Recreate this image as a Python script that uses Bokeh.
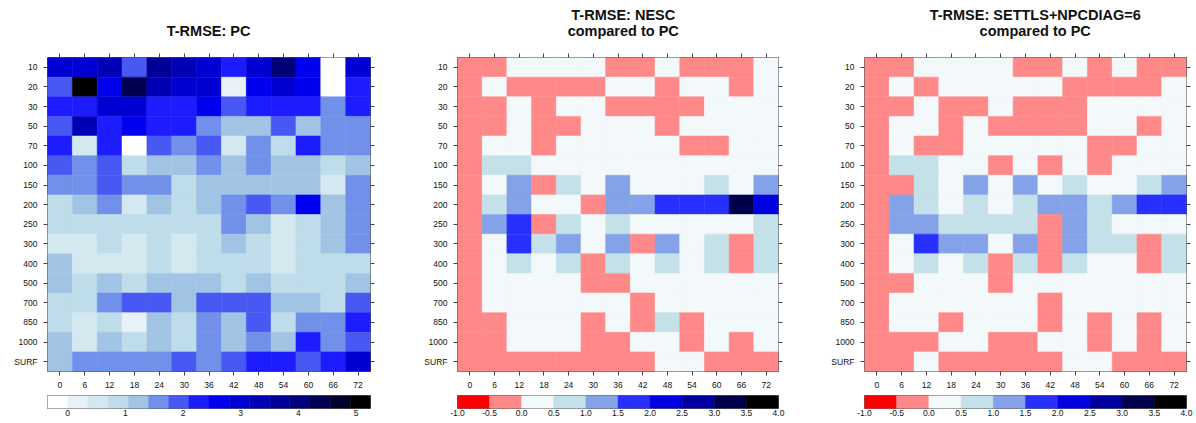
import numpy as np
from bokeh.plotting import figure
from bokeh.models import (Range1d, LinearAxis, FixedTicker, LinearColorMapper,
                          ColumnDataSource, PrintfTickFormatter, CustomLabelingPolicy)
from bokeh.transform import transform
from bokeh.layouts import row, column
from bokeh.core.properties import value
from bokeh.embed import file_html
from bokeh.resources import INLINE

nan = float("nan")
hours = [0, 6, 12, 18, 24, 30, 36, 42, 48, 54, 60, 66, 72]
levels = ["10", "20", "30", "50", "70", "100", "150", "200", "250", "300",
          "400", "500", "700", "850", "1000", "SURF"]

# T-RMSE of PC (rows = levels, columns = forecast hours)
pc_rmse = [
    [3.0, 3.0, 3.3, 1.9, 3.7, 3.3, 3.0, 2.3, 3.0, 4.0, 2.6, nan, 3.0],
    [1.9, 5.1, 2.6, 4.4, 3.3, 3.0, 3.0, 0.2, 2.6, 3.0, 2.6, nan, 2.3],
    [2.3, 2.3, 3.0, 3.0, 2.3, 2.3, 2.6, 1.9, 2.3, 2.3, 2.3, 1.6, 2.3],
    [1.9, 3.3, 2.3, 2.6, 2.3, 2.3, 1.6, 1.2, 1.2, 1.9, 1.2, 1.6, 1.6],
    [2.3, 0.5, 2.3, nan, 1.9, 1.6, 1.9, 0.5, 1.6, 0.9, 2.3, 1.6, 1.6],
    [1.9, 1.6, 1.9, 0.9, 1.2, 1.2, 1.6, 1.2, 1.6, 1.2, 1.2, 0.9, 1.2],
    [1.6, 1.6, 1.9, 1.6, 1.6, 0.9, 1.2, 1.2, 1.2, 1.2, 1.2, 0.5, 1.6],
    [0.9, 1.2, 1.6, 0.5, 1.2, 0.9, 1.2, 1.6, 1.9, 1.6, 2.6, 1.2, 1.6],
    [0.9, 0.9, 0.9, 0.9, 0.9, 0.9, 0.9, 1.6, 1.2, 0.5, 0.9, 1.2, 1.6],
    [0.5, 0.5, 0.9, 0.5, 0.9, 0.5, 0.9, 1.2, 0.9, 0.5, 0.9, 1.2, 1.6],
    [1.2, 0.5, 0.5, 0.5, 0.9, 0.5, 0.9, 0.9, 0.9, 0.5, 0.9, 0.9, 0.9],
    [1.2, 0.9, 1.2, 0.9, 1.2, 1.2, 1.2, 0.9, 1.2, 0.9, 0.9, 0.9, 1.2],
    [0.9, 0.9, 1.6, 1.9, 1.9, 1.2, 1.9, 1.9, 1.9, 1.2, 1.2, 0.9, 1.9],
    [0.9, 0.5, 0.9, 0.2, 1.2, 0.9, 1.6, 1.2, 1.9, 0.9, 1.6, 1.6, 2.3],
    [1.2, 0.5, 1.2, 0.9, 1.2, 0.9, 1.6, 1.2, 1.6, 1.2, 2.3, 1.6, 1.9],
    [1.2, 1.6, 1.6, 1.6, 1.6, 1.9, 1.6, 1.9, 2.3, 2.3, 1.9, 2.3, 3.0],
]

# NESC compared to PC
nesc_diff = [
    [-0.2, -0.2, 0.2, 0.2, 0.2, 0.2, -0.2, -0.2, 0.2, -0.2, -0.2, -0.2, 0.2],
    [-0.2, 0.2, -0.2, -0.2, -0.2, -0.2, 0.2, 0.2, -0.2, 0.2, 0.2, -0.2, 0.2],
    [-0.2, -0.2, 0.2, -0.2, 0.2, 0.2, -0.2, -0.2, -0.2, -0.2, 0.2, 0.2, 0.2],
    [-0.2, -0.2, 0.2, -0.2, -0.2, 0.2, 0.2, 0.2, -0.2, 0.2, 0.2, 0.2, 0.2],
    [-0.2, 0.2, 0.2, -0.2, 0.2, 0.2, 0.2, 0.2, 0.2, -0.2, -0.2, 0.2, 0.2],
    [-0.2, 0.7, 0.7, 0.2, 0.2, 0.2, 0.2, 0.2, 0.2, 0.2, 0.2, 0.2, 0.2],
    [-0.2, 0.2, 1.2, -0.2, 0.7, 0.2, 1.2, 0.2, 0.2, 0.2, 0.7, 0.2, 1.2],
    [-0.2, 0.7, 1.2, 0.2, 0.2, -0.2, 1.2, 1.2, 1.7, 1.7, 1.7, 3.2, 2.2],
    [-0.2, 1.2, 1.7, -0.2, 0.7, 0.2, 0.7, 0.2, 0.2, 0.2, 0.2, 0.2, 0.7],
    [-0.2, 0.2, 1.7, 0.7, 1.2, 0.2, 1.2, -0.2, 1.2, 0.2, 0.7, -0.2, 0.7],
    [-0.2, 0.2, 0.7, 0.2, 0.7, -0.2, 0.7, 0.2, 0.7, 0.2, 0.7, -0.2, 0.7],
    [-0.2, 0.2, 0.2, 0.2, 0.2, -0.2, -0.2, 0.2, 0.2, 0.2, 0.2, 0.2, 0.2],
    [-0.2, 0.2, 0.2, 0.2, 0.2, 0.2, 0.2, -0.2, 0.2, 0.2, 0.2, 0.2, 0.2],
    [-0.2, -0.2, 0.2, 0.2, 0.2, -0.2, 0.2, -0.2, 0.7, -0.2, 0.2, 0.2, 0.2],
    [-0.2, -0.2, 0.2, 0.2, 0.2, -0.2, -0.2, 0.2, 0.2, -0.2, 0.2, -0.2, 0.2],
    [-0.2, -0.2, -0.2, -0.2, -0.2, -0.2, -0.2, -0.2, 0.2, 0.2, -0.2, -0.2, -0.2],
]

# SETTLS+NPCDIAG=6 compared to PC
settls_diff = [
    [-0.2, -0.2, 0.2, 0.2, 0.2, 0.2, -0.2, -0.2, 0.2, -0.2, 0.2, -0.2, -0.2],
    [-0.2, 0.2, -0.2, 0.2, 0.2, 0.2, 0.2, 0.2, -0.2, -0.2, -0.2, -0.2, 0.2],
    [-0.2, -0.2, 0.2, -0.2, -0.2, 0.2, -0.2, -0.2, -0.2, 0.2, 0.2, 0.2, 0.2],
    [-0.2, 0.2, 0.2, -0.2, 0.2, -0.2, -0.2, -0.2, -0.2, 0.2, 0.2, -0.2, 0.2],
    [-0.2, 0.2, -0.2, -0.2, 0.2, 0.2, 0.2, 0.2, 0.2, -0.2, -0.2, 0.2, 0.2],
    [-0.2, 0.7, 0.7, 0.2, 0.2, -0.2, 0.2, -0.2, 0.2, -0.2, 0.2, 0.2, 0.2],
    [-0.2, -0.2, 0.7, 0.2, 1.2, 0.2, 1.2, 0.2, 0.7, 0.2, 0.2, 0.7, 1.2],
    [-0.2, 1.2, 0.7, 0.2, 0.7, 0.2, 0.7, 1.2, 1.2, 0.7, 1.2, 1.7, 1.7],
    [-0.2, 1.2, 1.2, 0.7, 0.7, 0.7, 0.7, -0.2, 1.2, 0.7, 0.2, 0.2, 0.2],
    [-0.2, 0.2, 1.7, 1.2, 1.2, 0.2, 1.2, -0.2, 1.2, 0.7, 0.7, -0.2, 0.7],
    [-0.2, 0.2, 0.7, 0.2, 0.7, -0.2, 0.7, -0.2, 0.7, 0.2, 0.2, -0.2, 0.7],
    [-0.2, -0.2, 0.2, 0.2, 0.2, -0.2, 0.2, 0.2, 0.2, 0.2, 0.2, 0.2, 0.2],
    [-0.2, 0.2, 0.2, 0.2, 0.2, 0.2, 0.2, -0.2, 0.2, 0.2, 0.2, 0.2, 0.2],
    [-0.2, 0.2, 0.2, -0.2, 0.2, 0.2, 0.2, -0.2, 0.2, -0.2, 0.2, -0.2, 0.2],
    [-0.2, -0.2, -0.2, 0.2, 0.2, -0.2, -0.2, 0.2, 0.2, -0.2, 0.2, -0.2, 0.2],
    [-0.2, -0.2, 0.2, -0.2, -0.2, -0.2, -0.2, -0.2, 0.2, 0.2, -0.2, -0.2, -0.2],
]

pc_bounds = [-0.35, 0.0, 0.35, 0.7, 1.05, 1.4, 1.75, 2.1, 2.45, 2.8, 3.15,
             3.5, 3.85, 4.2, 4.55, 4.9, 5.25]
pc_ticks = [0, 1, 2, 3, 4, 5]
pc_palette = ["#ffffff", "#e8f1f7", "#d4e8f0", "#bedcea", "#a2c4e4", "#7090ea",
              "#4858f2", "#1c1cff", "#0000f0", "#0000d2", "#0000b4", "#000096",
              "#000078", "#000052", "#00002a", "#000000"]
diff_bounds = [-1.0, -0.5, 0.0, 0.5, 1.0, 1.5, 2.0, 2.5, 3.0, 3.5, 4.0]
diff_palette = ["#ff0000", "#ff8888", "#f3f8fb", "#c4e0e8", "#84a2e8",
                "#2830ff", "#0000e0", "#0000a0", "#00004a", "#000000"]

titles = ["T-RMSE: PC",
          "T-RMSE: NESC\ncompared to PC",
          "T-RMSE: SETTLS+NPCDIAG=6\ncompared to PC"]

FONT = "Liberation Sans"
LABEL_SIZE = "8.5px"

NO_LABELS_JS = """
if (typeof indices.clear === 'function') {
  indices.clear();
} else {
  for (const i of Array.from(indices)) { indices.unset(i); }
}
return indices;
"""


def title_panel(text, width, cx):
    lines = text.split("\n")
    t = figure(width=width, height=40, x_range=Range1d(0, width), y_range=Range1d(40, 0),
               min_border=0, output_backend="svg", toolbar_location=None,
               x_axis_location=None, y_axis_location=None)
    t.grid.visible = False
    t.outline_line_color = None
    n = len(lines)
    ys = [30.5 - 16 * (n - 1 - i) for i in range(n)]
    t.text(x=[cx] * n, y=ys, text=lines, text_align="center", text_baseline="middle",
           text_font=value(FONT), text_font_style="bold", text_font_size="14.5px",
           text_color="#111111")
    return t


def style_axis(ax, standoff):
    ax.axis_line_color = None
    ax.major_tick_line_color = "#444444"
    ax.major_tick_out = 4
    ax.major_tick_in = 0
    ax.minor_tick_line_color = None
    ax.major_label_text_font = FONT
    ax.major_label_text_font_size = LABEL_SIZE
    ax.major_label_text_color = "#111111"
    ax.major_label_standoff = standoff


def heat_panel(vals, palette, bounds, L, fw, R):
    xs, ys, vs = [], [], []
    for i, rv in enumerate(vals):
        for j, v in enumerate(rv):
            xs.append(hours[j])
            ys.append(i)
            vs.append(v)
    src = ColumnDataSource(dict(x=xs, y=ys, v=np.array(vs, dtype=float)))
    mapper = LinearColorMapper(palette=palette, low=bounds[0], high=bounds[-1],
                               nan_color="#ffffff")
    p = figure(frame_width=fw, frame_height=314,
               x_range=Range1d(-3, 75), y_range=Range1d(15.5, -0.5),
               min_border_left=L, min_border_right=R, min_border_top=17,
               min_border_bottom=20, output_backend="svg", toolbar_location=None)
    p.rect(x="x", y="y", width=6, height=1, source=src,
           fill_color=transform("v", mapper), line_color=transform("v", mapper),
           line_width=0.5)
    p.grid.visible = False
    p.outline_line_color = "#555555"
    p.outline_line_width = 1
    p.xaxis.ticker = FixedTicker(ticks=hours)
    p.yaxis.ticker = FixedTicker(ticks=list(range(len(levels))))
    p.yaxis.major_label_overrides = {i: lab for i, lab in enumerate(levels)}
    style_axis(p.xaxis[0], 6)
    style_axis(p.yaxis[0], 6)
    top = LinearAxis(ticker=FixedTicker(ticks=hours))
    right = LinearAxis(ticker=FixedTicker(ticks=list(range(len(levels)))))
    for ax in (top, right):
        style_axis(ax, 0)
        ax.major_label_policy = CustomLabelingPolicy(code=NO_LABELS_JS)
    p.add_layout(top, "above")
    p.add_layout(right, "right")
    return p


def cbar_panel(bounds, palette, ticks, fmt, L, fw, R):
    c = figure(frame_width=fw, frame_height=13,
               x_range=Range1d(bounds[0], bounds[-1]), y_range=Range1d(0, 1),
               min_border_left=L, min_border_right=R, min_border_top=4,
               min_border_bottom=15, output_backend="svg", toolbar_location=None,
               y_axis_location=None)
    c.quad(left=bounds[:-1], right=bounds[1:], bottom=0, top=1,
           fill_color=palette, line_color=palette, line_width=0.5)
    c.grid.visible = False
    c.outline_line_color = "#666666"
    ax = c.xaxis[0]
    ax.ticker = FixedTicker(ticks=ticks)
    if fmt:
        ax.formatter = PrintfTickFormatter(format=fmt)
    ax.axis_line_color = None
    ax.major_tick_line_color = None
    ax.major_tick_out = 0
    ax.major_tick_in = 0
    ax.minor_tick_line_color = None
    ax.major_label_text_font = FONT
    ax.major_label_text_font_size = LABEL_SIZE
    ax.major_label_text_color = "#111111"
    ax.major_label_standoff = 1
    return c


cols = []
specs = [
    (pc_rmse, pc_palette, pc_bounds, pc_ticks, None, 47, 323, 29, 199),
    (nesc_diff, diff_palette, diff_bounds, diff_bounds, "%.1f", 58, 321, 20, 206),
    (settls_diff, diff_palette, diff_bounds, diff_bounds, "%.1f", 66, 322, 10, 215),
]
for k, (vals, pal, bnds, tks, fmt, L, fw, R, cx) in enumerate(specs):
    W = L + fw + R
    t = title_panel(titles[k], W, cx)
    h = heat_panel(vals, pal, bnds, L, fw, R)
    c = cbar_panel(bnds, pal, tks, fmt, L, fw, R)
    cols.append(column(t, h, c, spacing=0))

layout = row(*cols, spacing=0)
open("out.html", "w").write(file_html(layout, INLINE))
